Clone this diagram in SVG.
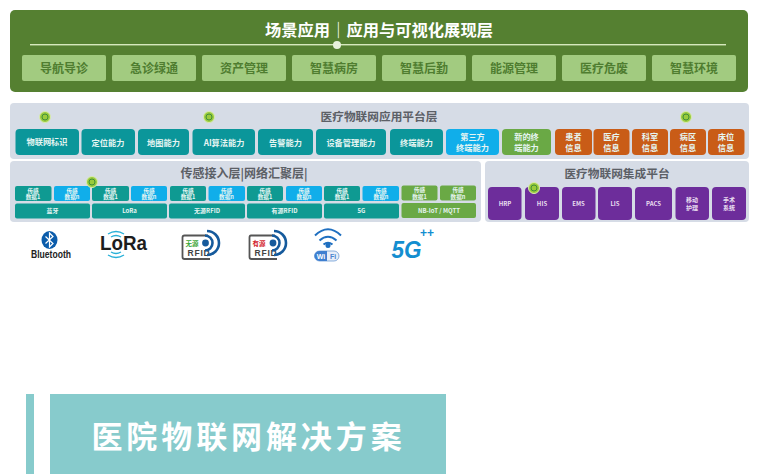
<svg xmlns="http://www.w3.org/2000/svg" width="760" height="474" viewBox="0 0 760 474">
<style>
text{font-family:"Noto Sans CJK SC","Liberation Sans",sans-serif;text-anchor:middle;font-weight:700}
.panel{fill:#d6dce6}
.gbox{fill:#a2cb80}
.gt{fill:#4f7d30;font-size:12px}
.teal{fill:#0b969a}
.teal2{fill:#0f9a92}
.blue{fill:#10aeea}
.lime{fill:#6aa945}
.org{fill:#c95c17}
.pur{fill:#6d2d9b}
.w{fill:#e6f5f2;font-size:8.2px}
.s{fill:#e6f5f2;font-size:5.600px}
.b{fill:#e6f5f2;font-size:6px}
.p{fill:#e9dff0;font-size:6px}
.h{fill:#5c6066;font-size:11.700px}
.spot{fill:#9acb3c;stroke:#d9ecb0;stroke-width:1}
.spot2{fill:none;stroke:#3f8f3a;stroke-width:1}
</style>
<rect width="760" height="474" fill="#fff"/>

<g id="layer-scene">
<rect x="10" y="10" width="738" height="82" rx="5" fill="#558031"/>
<text x="379" y="36" font-size="16.300" fill="#fff">场景应用｜应用与可视化展现层</text>
<rect x="30" y="44" width="696" height="1.400" fill="#d6e8bd"/>
<circle cx="337" cy="45" r="4" fill="#e8f1dc"/>
<g id="scene-1"><rect class="gbox" x="22" y="55" width="84" height="26" rx="2"/><text class="gt" x="64" y="72.500">导航导诊</text></g>
<g id="scene-2"><rect class="gbox" x="112" y="55" width="84" height="26" rx="2"/><text class="gt" x="154" y="72.500">急诊绿通</text></g>
<g id="scene-3"><rect class="gbox" x="202" y="55" width="84" height="26" rx="2"/><text class="gt" x="244" y="72.500">资产管理</text></g>
<g id="scene-4"><rect class="gbox" x="292" y="55" width="84" height="26" rx="2"/><text class="gt" x="334" y="72.500">智慧病房</text></g>
<g id="scene-5"><rect class="gbox" x="382" y="55" width="84" height="26" rx="2"/><text class="gt" x="424" y="72.500">智慧后勤</text></g>
<g id="scene-6"><rect class="gbox" x="472" y="55" width="84" height="26" rx="2"/><text class="gt" x="514" y="72.500">能源管理</text></g>
<g id="scene-7"><rect class="gbox" x="562" y="55" width="84" height="26" rx="2"/><text class="gt" x="604" y="72.500">医疗危废</text></g>
<g id="scene-8"><rect class="gbox" x="652" y="55" width="84" height="26" rx="2"/><text class="gt" x="694" y="72.500">智慧环境</text></g>
</g>

<g id="layer-platform">
<rect class="panel" x="10" y="103" width="739" height="56" rx="4"/>
<text class="h" x="379" y="120.500">医疗物联网应用平台层</text>
<g id="p1"><rect class="teal" x="15.500" y="129" width="63.500" height="26" rx="4"/><text class="w" x="47" y="145">物联网标识</text></g>
<g id="p2"><rect class="teal" x="81.500" y="129" width="53.500" height="26" rx="4"/><text class="w" x="108" y="145.500">定位能力</text></g>
<g id="p3"><rect class="teal" x="138" y="129" width="51" height="26" rx="4"/><text class="w" x="163.500" y="145.500">地图能力</text></g>
<g id="p4"><rect class="teal" x="192.500" y="129" width="62.500" height="26" rx="4"/><text class="w" x="224" y="145.500">AI算法能力</text></g>
<g id="p5"><rect class="teal" x="258" y="129" width="55" height="26" rx="4"/><text class="w" x="285.500" y="145.500">告警能力</text></g>
<g id="p6"><rect class="teal" x="316" y="129" width="70" height="26" rx="4"/><text class="w" x="351" y="145.500">设备管理能力</text></g>
<g id="p7"><rect class="teal" x="390" y="129" width="53" height="26" rx="4"/><text class="w" x="416.500" y="145.500">终端能力</text></g>
<g id="p8"><rect class="blue" x="446" y="129" width="53" height="26" rx="4"/><text class="w" x="472.500" y="140">第三方</text><text class="w" x="472.500" y="151">终端能力</text></g>
<g id="p9"><rect class="lime" x="502" y="129" width="49" height="26" rx="4"/><text class="w" x="526.500" y="140">新的终</text><text class="w" x="526.500" y="151">端能力</text></g>
<g id="p10"><rect class="org" x="555" y="129" width="37" height="26" rx="4"/><text class="w" x="573.500" y="140">患者</text><text class="w" x="573.500" y="151">信息</text></g>
<g id="p11"><rect class="org" x="593.500" y="129" width="36" height="26" rx="4"/><text class="w" x="611.500" y="140">医疗</text><text class="w" x="611.500" y="151">信息</text></g>
<g id="p12"><rect class="org" x="632" y="129" width="36" height="26" rx="4"/><text class="w" x="650" y="140">科室</text><text class="w" x="650" y="151">信息</text></g>
<g id="p13"><rect class="org" x="670" y="129" width="36" height="26" rx="4"/><text class="w" x="688" y="140">病区</text><text class="w" x="688" y="151">信息</text></g>
<g id="p14"><rect class="org" x="708" y="129" width="36.500" height="26" rx="4"/><text class="w" x="726" y="140">床位</text><text class="w" x="726" y="151">信息</text></g>
</g>

<g id="layer-access">
<rect class="panel" x="10" y="161" width="471" height="61" rx="4"/>
<text class="h" x="244" y="177.500" style="font-size:12px">传感接入层|网络汇聚层|</text>
<g id="d1"><rect class="teal2" x="15" y="186" width="36.500" height="15" rx="2"/><text class="s" x="33" y="192.500">传感</text><text class="s" x="33" y="199.300">数据1</text></g>
<g id="d2"><rect class="blue" x="54" y="186" width="36" height="15" rx="2"/><text class="s" x="72" y="192.500">传感</text><text class="s" x="72" y="199.300">数据n</text></g>
<g id="d3"><rect class="teal2" x="92" y="186" width="37" height="15" rx="2"/><text class="s" x="110.500" y="192.500">传感</text><text class="s" x="110.500" y="199.300">数据1</text></g>
<g id="d4"><rect class="blue" x="131" y="186" width="36" height="15" rx="2"/><text class="s" x="149" y="192.500">传感</text><text class="s" x="149" y="199.300">数据n</text></g>
<g id="d5"><rect class="teal2" x="170" y="186" width="36" height="15" rx="2"/><text class="s" x="188" y="192.500">传感</text><text class="s" x="188" y="199.300">数据1</text></g>
<g id="d6"><rect class="blue" x="208.500" y="186" width="36.500" height="15" rx="2"/><text class="s" x="226.500" y="192.500">传感</text><text class="s" x="226.500" y="199.300">数据n</text></g>
<g id="d7"><rect class="teal2" x="247" y="186" width="36" height="15" rx="2"/><text class="s" x="265" y="192.500">传感</text><text class="s" x="265" y="199.300">数据1</text></g>
<g id="d8"><rect class="blue" x="286" y="186" width="36" height="15" rx="2"/><text class="s" x="304" y="192.500">传感</text><text class="s" x="304" y="199.300">数据n</text></g>
<g id="d9"><rect class="teal2" x="324" y="186" width="36" height="15" rx="2"/><text class="s" x="342" y="192.500">传感</text><text class="s" x="342" y="199.300">数据1</text></g>
<g id="d10"><rect class="blue" x="362.500" y="186" width="36.500" height="15" rx="2"/><text class="s" x="381" y="192.500">传感</text><text class="s" x="381" y="199.300">数据n</text></g>
<g id="d11"><rect class="lime" x="401.500" y="185.500" width="36" height="15" rx="2"/><text class="s" x="419.500" y="192">传感</text><text class="s" x="419.500" y="198.800">数据1</text></g>
<g id="d12"><rect class="lime" x="440" y="185.500" width="36" height="15" rx="2"/><text class="s" x="458" y="192">传感</text><text class="s" x="458" y="198.800">数据n</text></g>
<g id="n1"><rect class="teal2" x="15" y="203.500" width="75" height="15" rx="2"/><text class="b" x="52.500" y="213.200">蓝牙</text></g>
<g id="n2"><rect class="teal2" x="92" y="203.500" width="75" height="15" rx="2"/><text class="b" x="129.500" y="213.200">LoRa</text></g>
<g id="n3"><rect class="teal2" x="169" y="203.500" width="76" height="15" rx="2"/><text class="b" x="207" y="213.200">无源RFID</text></g>
<g id="n4"><rect class="teal2" x="247" y="203.500" width="75" height="15" rx="2"/><text class="b" x="284.500" y="213.200">有源RFID</text></g>
<g id="n5"><rect class="teal2" x="324" y="203.500" width="75" height="15" rx="2"/><text class="b" x="361.500" y="213.200">5G</text></g>
<g id="n6"><rect class="lime" x="401.500" y="203" width="74.500" height="15" rx="2"/><text class="b" x="439" y="212.700">NB-IoT / MQTT</text></g>
</g>

<g id="layer-integration">
<rect class="panel" x="485" y="161" width="264" height="61" rx="4"/>
<text class="h" x="617" y="177.500">医疗物联网集成平台</text>
<g id="i1"><rect class="pur" x="488" y="187" width="33.500" height="33" rx="4"/><text class="p" x="505" y="206">HRP</text></g>
<g id="i2"><rect class="pur" x="525" y="187" width="34" height="33" rx="4"/><text class="p" x="542" y="206">HIS</text></g>
<g id="i3"><rect class="pur" x="562" y="187" width="33.500" height="33" rx="4"/><text class="p" x="578.500" y="206">EMS</text></g>
<g id="i4"><rect class="pur" x="598" y="187" width="34" height="33" rx="4"/><text class="p" x="615" y="206">LIS</text></g>
<g id="i5"><rect class="pur" x="635" y="187" width="37" height="33" rx="4"/><text class="p" x="653.500" y="206">PACS</text></g>
<g id="i6"><rect class="pur" x="675.500" y="187" width="33.500" height="33" rx="4"/><text class="p" x="692" y="202">移动</text><text class="p" x="692" y="210">护理</text></g>
<g id="i7"><rect class="pur" x="712" y="187" width="34" height="33" rx="4"/><text class="p" x="729" y="202">手术</text><text class="p" x="729" y="210">系统</text></g>
</g>

<g id="watermark-spots">
<circle class="spot" cx="45" cy="117" r="5.500"/><circle class="spot2" cx="45" cy="117" r="3"/>
<circle class="spot" cx="209" cy="117" r="5.500"/><circle class="spot2" cx="209" cy="117" r="3"/>
<circle class="spot" cx="686" cy="117" r="5.500"/><circle class="spot2" cx="686" cy="117" r="3"/>
<circle class="spot" cx="92" cy="182" r="5.500"/><circle class="spot2" cx="92" cy="182" r="3"/>
<circle class="spot" cx="534" cy="188" r="5.500"/><circle class="spot2" cx="534" cy="188" r="3"/>
</g>

<g id="logo-bluetooth">
<ellipse cx="49.500" cy="240" rx="8" ry="9" fill="#0b5cab"/>
<path d="M45.500 236.500L53 243.500L49.500 247V233L53 236.500L45.500 243.500" fill="none" stroke="#fff" stroke-width="1.200"/>
<text x="51" y="258" font-size="11" fill="#222" style="font-family:'Liberation Sans',sans-serif" textLength="40" lengthAdjust="spacingAndGlyphs">Bluetooth</text>
</g>

<g id="logo-lora">
<text x="123.500" y="250" font-size="19.500" fill="#1d1d1d" style="font-family:'Liberation Sans',sans-serif" textLength="47" lengthAdjust="spacingAndGlyphs">LoRa</text>
<path d="M108 234Q116 229 124 234M111 237Q116 234 121 237M108 255Q116 260 124 255M111 252Q116 255 121 252" fill="none" stroke="#28b0d8" stroke-width="1.400"/>
</g>

<g id="logo-rfid-passive" fill="none">
<path d="M208 235.500H184.500Q182.500 235.500 182.500 237.500V257Q182.500 259 184.500 259H210" stroke="#555" stroke-width="1.800"/>
<text x="192" y="245.500" font-size="6.500" fill="#3aa635">无源</text>
<text x="199" y="256" font-size="8.500" fill="#444" style="font-family:'Liberation Sans',sans-serif;letter-spacing:.8px">RFID</text>
<circle cx="205.500" cy="243" r="3.400" fill="#155a9c"/>
<path d="M205 235.500A7.500 7.500 0 0 1 205 250.500M207 231A12 12 0 0 1 207 255" stroke="#155a9c" stroke-width="2.600"/>
</g>

<g id="logo-rfid-active" fill="none">
<path d="M275 235.500H251Q249.500 235.500 249.500 237.500V257Q249.500 259 251.500 259H277" stroke="#555" stroke-width="1.800"/>
<text x="259" y="245.500" font-size="6.500" fill="#d2232a">有源</text>
<text x="266" y="256" font-size="8.500" fill="#444" style="font-family:'Liberation Sans',sans-serif;letter-spacing:.8px">RFID</text>
<circle cx="273" cy="243" r="3.400" fill="#155a9c"/>
<path d="M272 235.500A7.500 7.500 0 0 1 272 250.500M274 231A12 12 0 0 1 274 255" stroke="#155a9c" stroke-width="2.600"/>
</g>

<g id="logo-wifi">
<path d="M315 235.500Q328 223 341 235.500M319.500 240.500Q328 233 336.500 240.500M323.500 244.500Q328 241 332.500 244.500" fill="none" stroke="#1f6fc0" stroke-width="2"/>
<circle cx="328" cy="245.500" r="2.500" fill="#1f6fc0"/>
<rect x="314.500" y="251" width="24.500" height="10" rx="5" fill="#e8eef8" stroke="#5a8fd0" stroke-width=".7"/>
<path d="M314.500 256a5 5 0 0 1 5-5h7.500v10h-7.500a5 5 0 0 1-5-5z" fill="#3f7fd0"/>
<text x="321" y="259" font-size="7" fill="#fff" style="font-family:'Liberation Sans',sans-serif">Wi</text>
<text x="333" y="259" font-size="7" fill="#4a86d0" style="font-family:'Liberation Sans',sans-serif">Fi</text>
</g>

<g id="logo-5g">
<text x="406.500" y="258" font-size="24" fill="#138ed0" style="font-family:'Liberation Sans',sans-serif;font-style:italic" textLength="30" lengthAdjust="spacingAndGlyphs">5G</text>
<text x="427" y="237" font-size="12" fill="#138ed0" style="font-family:'Liberation Sans',sans-serif">++</text>
</g>

<g id="title-banner">
<rect x="26" y="394" width="8" height="80" fill="#87cbcc"/>
<rect x="50" y="394" width="396" height="80" fill="#87cbcc"/>
<text x="248.500" y="448" font-size="31" fill="#fff" letter-spacing="3.900">医院物联网解决方案</text>
</g>
</svg>
